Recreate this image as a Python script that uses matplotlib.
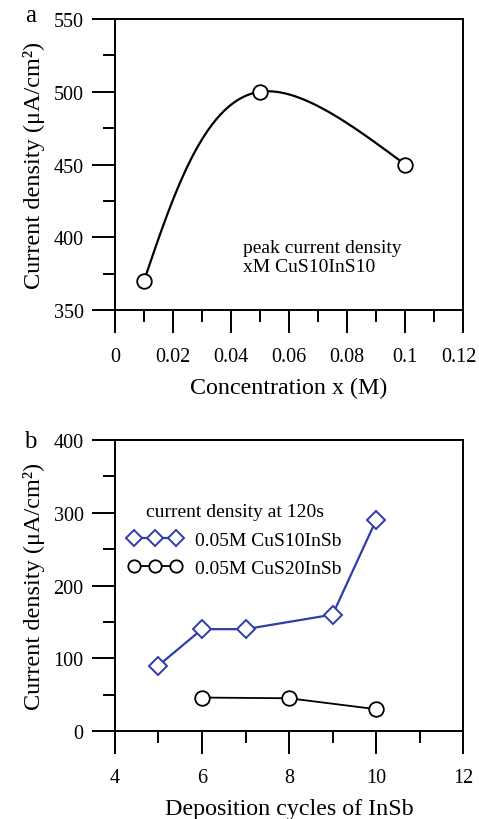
import numpy as np
import matplotlib.pyplot as plt
from matplotlib.ticker import MultipleLocator
from matplotlib.transforms import ScaledTranslation

plt.rcParams['font.family'] = ['Liberation Serif', 'DejaVu Serif']

# panel a: peak current density vs concentration
conc = [0.01, 0.05, 0.1]
peak_j = [370, 500, 450]

# panel b: current density at 120 s vs deposition cycles
cycles_10 = [5, 6, 7, 9, 10]
j_10 = [90, 140, 140, 160, 290]
cycles_20 = [6, 8, 10]
j_20 = [46, 45, 30]

BLUE = '#2e3da8'
YLABEL = 'Current density (μA/cm²)'


def natural_spline(t, y, tt):
    # natural cubic spline through (t, y), evaluated at tt
    t = np.asarray(t, float)
    y = np.asarray(y, float)
    n = len(t)
    h = np.diff(t)
    A = np.zeros((n, n))
    b = np.zeros(n)
    A[0, 0] = A[-1, -1] = 1
    for i in range(1, n - 1):
        A[i, i - 1] = h[i - 1]
        A[i, i] = 2 * (h[i - 1] + h[i])
        A[i, i + 1] = h[i]
        b[i] = 6 * ((y[i + 1] - y[i]) / h[i] - (y[i] - y[i - 1]) / h[i - 1])
    M = np.linalg.solve(A, b)
    out = np.empty_like(tt)
    for k, v in enumerate(tt):
        i = min(np.searchsorted(t, v, side='right') - 1, n - 2)
        i = max(i, 0)
        a = (t[i + 1] - v) / h[i]
        c = (v - t[i]) / h[i]
        out[k] = (a * y[i] + c * y[i + 1]
                  + ((a**3 - a) * M[i] + (c**3 - c) * M[i + 1]) * h[i]**2 / 6)
    return out


def style_axes(ax):
    for s in ax.spines.values():
        s.set_linewidth(1.4)
    ax.tick_params(which='major', direction='out', length=16.5, width=1.4,
                   labelsize=14.5)
    ax.tick_params(which='minor', direction='out', length=8.5, width=1.4)
    ax.tick_params(axis='x', which='major', pad=10)
    ax.tick_params(axis='y', which='major', pad=6)


fig = plt.figure(figsize=(4.79, 8.2), dpi=100)

# ---- panel a ----
ax1 = fig.add_axes([0.240, 0.6207, 0.727, 0.3549])
# smooth curve: parametric spline in screen-like units
xn = np.array(conc) / 0.12 * 348
yn = (np.array(peak_j) - 350) / 200 * 291
chord = np.concatenate([[0], np.cumsum(np.hypot(np.diff(xn), np.diff(yn)))])
tt = np.linspace(0, chord[-1], 300)
xs = natural_spline(chord, conc, tt)
ys = natural_spline(chord, peak_j, tt)
ax1.plot(xs, ys, color='black', lw=1.6)
ax1.plot(conc, peak_j, 'o', ms=10.5, mfc='white', mec='black', mew=1.3)
ax1.set_xlim(0, 0.12)
ax1.set_ylim(350, 550)
ax1.xaxis.set_minor_locator(MultipleLocator(0.01))
ax1.yaxis.set_major_locator(MultipleLocator(50))
ax1.yaxis.set_minor_locator(MultipleLocator(25))
ax1.set_xticks([0, 0.02, 0.04, 0.06, 0.08, 0.1, 0.12],
               ['0', '0.02', '0.04', '0.06', '0.08', '0.1', '0.12'])
style_axes(ax1)
# keep the last label inside the figure edge
last = ax1.get_xticklabels()[-1]
last.set_transform(last.get_transform()
                   + ScaledTranslation(-3 / 72, 0, fig.dpi_scale_trans))
ax1.set_xlabel('Concentration x (M)', fontsize=17.3, labelpad=8)
ax1.set_ylabel(YLABEL, fontsize=17.5, labelpad=6)
ax1.text(0.368, 0.243, 'peak current density\nxM CuS10InS10',
         transform=ax1.transAxes, fontsize=14, va='top', linespacing=1.15)
fig.text(0.064, 0.980, 'a', fontsize=18, va='center', ha='center')

# ---- panel b ----
ax2 = fig.add_axes([0.240, 0.1073, 0.727, 0.3549])
ax2.plot(cycles_10, j_10, '-D', color=BLUE, ms=9.5, mfc='white', mec=BLUE,
         mew=1.4, lw=1.6, label='0.05M CuS10InSb')
ax2.plot(cycles_20, j_20, '-o', color='black', ms=10.5, mfc='white',
         mec='black', mew=1.3, lw=1.3, label='0.05M CuS20InSb')
ax2.set_xlim(4, 12)
ax2.set_ylim(0, 400)
ax2.xaxis.set_major_locator(MultipleLocator(2))
ax2.xaxis.set_minor_locator(MultipleLocator(1))
ax2.yaxis.set_major_locator(MultipleLocator(100))
ax2.yaxis.set_minor_locator(MultipleLocator(50))
style_axes(ax2)
ax2.set_xlabel('Deposition cycles of InSb', fontsize=17.3, labelpad=8)
ax2.set_ylabel(YLABEL, fontsize=17.5, labelpad=6)
leg = ax2.legend(title='current density at 120s', loc='upper left',
                 bbox_to_anchor=(0.037, 0.782), frameon=False, numpoints=3,
                 handlelength=2.8, handletextpad=0.65, fontsize=14,
                 title_fontsize=14, labelspacing=0.55, borderaxespad=0,
                 borderpad=0, markerscale=0.85)
fig.text(0.064, 0.461, 'b', fontsize=18, va='center', ha='center')

fig.savefig('out.png', dpi=100)
